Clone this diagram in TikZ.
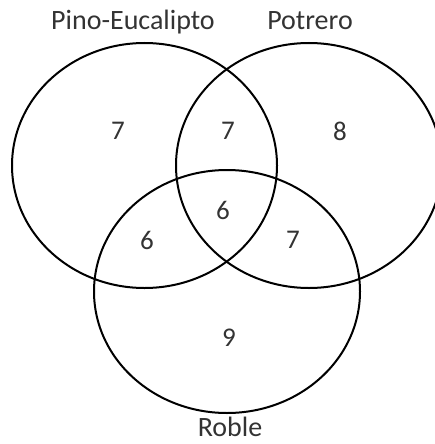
\documentclass[tikz,border=0pt]{standalone}
\usepackage{fontspec}
\setmainfont{Carlito}
\usetikzlibrary{shapes.geometric}

\tikzset{
    set/.style={ellipse, draw, line width=2pt, inner sep=0pt, outer sep=0pt},
    setname/.style={anchor=base, inner sep=1pt, text=black!80, font=\fontsize{28}{30}\selectfont},
    count/.style={text=black!80, font=\fontsize{27}{29}\selectfont}
}

\begin{document}
\begin{tikzpicture}[x=1pt, y=-1pt]
                \clip (0,0) rectangle (435,444);

                % Sets
                \node[set, minimum width=265pt, minimum height=245pt] (pino) at (144.5,165.5) {};
                \node[set, minimum width=266pt, minimum height=245pt] (potrero) at (309,165.5) {};
                \node[set, minimum width=266pt, minimum height=243pt] (roble) at (227,291.5) {};

                % Set names
                \node[setname] (pinoname) at (133,30) {Pino-Eucalipto};
                \node[setname] (potreroname) at (310,30) {Potrero};
                \node[setname] (roblename) at (230,436) {Roble};

                % Counts per region
                \node[count] (onlypino) at (118,131) {7};
                \node[count] (pinopotrero) at (228,131) {7};
                \node[count] (onlypotrero) at (340,131) {8};
                \node[count] (all) at (223,210) {6};
                \node[count] (pinoroble) at (147,240) {6};
                \node[count] (potreroroble) at (293,240) {7};
                \node[count] (onlyroble) at (229,338) {9};
\end{tikzpicture}
\end{document}
